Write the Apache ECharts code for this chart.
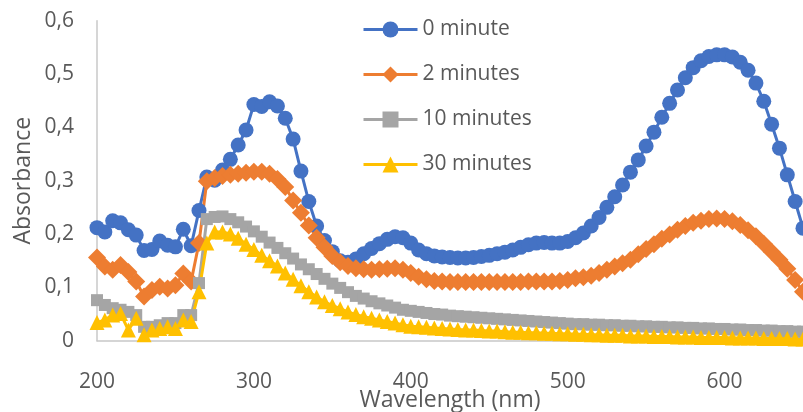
<!DOCTYPE html>
<html>
<head>
<meta charset="utf-8">
<script src="https://cdn.jsdelivr.net/npm/echarts@6/dist/echarts.min.js"></script>
<style>
html,body{margin:0;padding:0;background:#fff;}
#chart{width:803px;height:412px;}
</style>
</head>
<body>
<div id="chart"></div>
<script>
const wavelengths = [200,205,210,215,220,225,230,235,240,245,250,255,260,265,270,275,280,285,290,295,
300,305,310,315,320,325,330,335,340,345,350,355,360,365,370,375,380,385,390,395,
400,405,410,415,420,425,430,435,440,445,450,455,460,465,470,475,480,485,490,495,
500,505,510,515,520,525,530,535,540,545,550,555,560,565,570,575,580,585,590,595,
600,605,610,615,620,625,630,635,640,645,650];

const min0 = [0.212,0.204,0.225,0.221,0.208,0.198,0.169,0.171,0.187,0.179,0.176,0.209,0.178,0.244,0.307,0.301,0.320,0.340,0.367,0.395,
0.443,0.439,0.448,0.440,0.417,0.378,0.318,0.261,0.215,0.188,0.167,0.150,0.147,0.153,0.163,0.173,0.182,0.190,0.195,0.193,
0.183,0.170,0.163,0.159,0.157,0.156,0.155,0.155,0.156,0.158,0.160,0.163,0.166,0.170,0.175,0.180,0.183,0.184,0.183,0.183,
0.186,0.193,0.202,0.215,0.231,0.250,0.270,0.292,0.316,0.339,0.365,0.391,0.419,0.445,0.470,0.493,0.512,0.525,0.533,0.536,
0.536,0.532,0.522,0.507,0.483,0.449,0.406,0.361,0.311,0.261,0.211];

const min2 = [0.156,0.139,0.133,0.142,0.129,0.111,0.083,0.095,0.101,0.098,0.104,0.126,0.111,0.183,0.299,0.305,0.309,0.311,0.313,0.315,
0.317,0.317,0.313,0.303,0.288,0.263,0.240,0.216,0.193,0.175,0.159,0.147,0.140,0.136,0.134,0.133,0.134,0.135,0.136,0.133,
0.127,0.120,0.115,0.112,0.111,0.110,0.110,0.110,0.110,0.110,0.110,0.110,0.110,0.110,0.110,0.111,0.111,0.111,0.111,0.112,
0.114,0.117,0.119,0.122,0.127,0.133,0.139,0.145,0.152,0.162,0.172,0.181,0.191,0.199,0.208,0.215,0.221,0.225,0.228,0.229,
0.228,0.224,0.217,0.207,0.196,0.182,0.167,0.152,0.135,0.114,0.092];

const min10 = [0.076,0.067,0.061,0.058,0.054,0.048,0.026,0.026,0.029,0.033,0.033,0.048,0.048,0.108,0.228,0.232,0.233,0.228,0.222,0.214,
0.205,0.195,0.184,0.174,0.164,0.154,0.143,0.134,0.125,0.116,0.107,0.099,0.091,0.084,0.079,0.074,0.070,0.066,0.062,0.058,
0.056,0.054,0.052,0.050,0.049,0.047,0.046,0.045,0.044,0.043,0.042,0.041,0.040,0.039,0.038,0.037,0.036,0.035,0.034,0.033,
0.032,0.031,0.031,0.030,0.030,0.029,0.029,0.028,0.028,0.027,0.027,0.026,0.026,0.025,0.025,0.024,0.024,0.023,0.023,0.022,
0.022,0.021,0.021,0.020,0.020,0.019,0.019,0.018,0.018,0.017,0.017];

const min30 = [0.034,0.039,0.048,0.051,0.020,0.042,0.011,0.020,0.023,0.026,0.023,0.039,0.036,0.092,0.183,0.204,0.204,0.200,0.192,0.181,
0.171,0.160,0.150,0.140,0.127,0.115,0.103,0.092,0.082,0.073,0.066,0.060,0.054,0.049,0.045,0.042,0.039,0.036,0.033,0.030,
0.027,0.026,0.025,0.024,0.023,0.022,0.021,0.020,0.020,0.019,0.018,0.018,0.017,0.016,0.016,0.015,0.015,0.014,0.014,0.013,
0.013,0.012,0.012,0.011,0.011,0.010,0.010,0.010,0.009,0.009,0.009,0.008,0.008,0.008,0.007,0.007,0.007,0.006,0.006,0.006,
0.006,0.005,0.005,0.005,0.005,0.004,0.004,0.004,0.004,0.003,0.003];

const seriesNames = ['0 minute','2 minutes','10 minutes','30 minutes'];
const xTicks = [200,300,400,500,600];
const yTicks = [0,0.1,0.2,0.3,0.4,0.5,0.6];

const FONT = '"Open Sans", "Noto Sans", sans-serif';
const TXT = '#595959';

function pairs(vals){ return wavelengths.map((w,i)=>[w, vals[i]]); }

const styles = [
  {color:'#4472C4', symbol:'circle', size:15},
  {color:'#ED7D31', symbol:'diamond', size:18},
  {color:'#A5A5A5', symbol:'rect', size:12},
  {color:'#FFC000', symbol:'triangle', size:15}
];
const allVals = [min0, min2, min10, min30];

const chart = echarts.init(document.getElementById('chart'), null, {renderer:'canvas'});
chart.setOption({
  animation:false,
  backgroundColor:'#fff',
  grid:{left:97, right:0, top:20.7, bottom:71.3, containLabel:false, outerBoundsMode:'none'},
  legend:{
    orient:'vertical', left:357, top:14, itemWidth:54, itemHeight:20, itemGap:24,
    lineStyle:{width:3},
    textStyle:{fontFamily:FONT, fontSize:21, color:TXT, lineHeight:20},
    data:seriesNames
  },
  xAxis:{
    type:'value', min:200, max:650, interval:100,
    name:'Wavelength (nm)', nameLocation:'middle', nameGap:49, nameMoveOverlap:false,
    nameTextStyle:{fontFamily:FONT, fontSize:23, color:TXT, lineHeight:22},
    axisLine:{show:true, lineStyle:{color:'#c8c8c8', width:1.5}},
    axisTick:{show:false},
    splitLine:{show:false},
    axisLabel:{fontFamily:FONT, fontSize:21, color:TXT, margin:31, lineHeight:21, showMaxLabel:false,
      formatter:v => xTicks.includes(v) ? String(v) : ''}
  },
  yAxis:{
    type:'value', min:0, max:0.6, interval:0.1,
    name:'Absorbance', nameLocation:'middle', nameGap:63, nameRotate:90, nameMoveOverlap:false,
    nameTextStyle:{fontFamily:FONT, fontSize:23, color:TXT, lineHeight:22},
    axisLine:{show:true, lineStyle:{color:'#c8c8c8', width:1.5}},
    axisTick:{show:false},
    splitLine:{show:false},
    axisLabel:{fontFamily:FONT, fontSize:21, color:TXT, margin:23,
      formatter:v => { const t = yTicks.find(k=>Math.abs(k-v)<1e-9); return t===0 ? '0' : (t!==undefined ? t.toFixed(1).replace('.', ',') : ''); }}
  },
  series: allVals.map((vals,i)=>({
    name:seriesNames[i], type:'line', data:pairs(vals),
    symbol:styles[i].symbol, symbolSize:styles[i].size, showAllSymbol:true,
    clip:false,
    lineStyle:{color:styles[i].color, width:3},
    itemStyle:{color:styles[i].color, borderWidth:0},
    emphasis:{disabled:true}
  }))
});
</script>
</body>
</html>
